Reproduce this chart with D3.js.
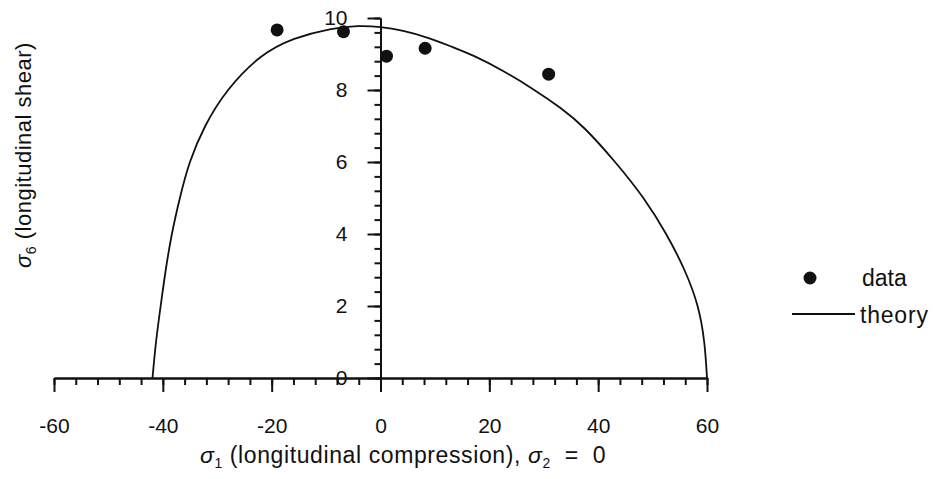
<!DOCTYPE html>
<html>
<head>
<meta charset="utf-8">
<script src="https://cdn.jsdelivr.net/npm/d3@7"></script>
<style>
body { margin: 0; background: #fff; }
text { font-family: "Liberation Sans", Arial, sans-serif; fill: #111; }
</style>
</head>
<body>
<svg id="svg"></svg>
<script>
var larghezza = 933;
var altezza = 479;

// measured points (sigma1, sigma6)
var dataX = [-19.0, -6.8, 1.1, 8.2, 30.9];
var dataY = [9.67, 9.62, 8.94, 9.16, 8.44];

// theory envelope
var theoryX = [-41.9, -41.3, -40.4, -39.5, -38.4, -36.9, -35.2, -32.4, -28.4, -22.0, -16.0, -9.0, -4.0, 0, 4.0, 9.0, 13.1, 17.0, 22.3, 28.4, 33.2, 37.3, 43.2, 48.5, 52.6, 56.0, 58.5, 59.6, 60.0];
var theoryY = [0, 1.0, 2.0, 3.0, 4.0, 5.0, 6.0, 7.0, 8.0, 9.0, 9.45, 9.72, 9.79, 9.76, 9.66, 9.45, 9.2, 8.97, 8.56, 8.0, 7.5, 7.0, 6.0, 5.0, 4.0, 3.0, 2.0, 1.0, 0];

var xMajor = [-60, -40, -20, 0, 20, 40, 60];
var yMajor = [0, 2, 4, 6, 8, 10];
var xMinor = d3.range(-60, 61, 4);
var yMinor = d3.range(0, 26).map(function (i) { return +(i * 0.4).toFixed(1); });

var legendLabels = ["data", "theory"];

var x = d3.scaleLinear().domain([-60, 60]).range([54, 707]);
var y = d3.scaleLinear().domain([0, 10]).range([378, 18]);

function draw() {
    var svg = d3.select("#svg");
    svg.attr("width", larghezza).attr("height", altezza);

    drawAxes(svg);
    drawTheory(svg);
    drawPoints(svg);
    drawLabels(svg);
    drawLegend(svg);
}

function drawAxes(svg) {
    var plain = function (d) { return String(d); };

    // x axis, ticks hanging down
    svg.append("g").attr("transform", "translate(0," + y(0) + ")")
        .call(d3.axisBottom(x).tickValues(xMinor).tickSize(7).tickFormat("").tickSizeOuter(0));
    svg.append("g").attr("transform", "translate(0," + y(0) + ")")
        .call(d3.axisBottom(x).tickValues(xMajor).tickSize(14).tickPadding(26).tickSizeOuter(0).tickFormat(plain));

    // y axis at sigma1 = 0
    svg.append("g").attr("transform", "translate(" + x(0) + ",0)")
        .call(d3.axisLeft(y).tickValues(yMinor).tickSize(6).tickFormat("").tickSizeOuter(0));
    svg.append("g").attr("transform", "translate(" + x(0) + ",0)")
        .call(d3.axisLeft(y).tickValues(yMajor).tickSize(13).tickPadding(20).tickSizeOuter(0).tickFormat(plain));

    svg.selectAll(".domain").style("stroke", "#111").style("stroke-width", "2px");
    svg.selectAll(".tick line").style("stroke", "#111").style("stroke-width", "2px");
    svg.selectAll(".tick text").style("font-size", "21px").style("fill", "#111");
}

function drawTheory(svg) {
    var pts = theoryX.map(function (v, i) { return [v, theoryY[i]]; });
    var line = d3.line()
        .x(function (d) { return x(d[0]); })
        .y(function (d) { return y(d[1]); })
        .curve(d3.curveBasis);
    svg.append("path")
        .attr("d", line(pts))
        .style("fill", "none")
        .style("stroke", "#111")
        .style("stroke-width", "1.8px");
}

function drawPoints(svg) {
    dataX.forEach(function (element, index) {
        svg.append("circle")
            .attr("cx", x(element))
            .attr("cy", y(dataY[index]))
            .attr("r", 6.5)
            .style("fill", "#111");
    });
}

function drawLabels(svg) {
    var xt = svg.append("text")
        .attr("x", 200)
        .attr("y", 463)
        .style("font-size", "23px")
        .style("letter-spacing", "0.6px");
    xt.append("tspan").style("font-style", "italic").text("σ");
    xt.append("tspan").attr("dy", 5).style("font-size", "14px").text("1");
    xt.append("tspan").attr("dy", -5).text(" (longitudinal compression), ");
    xt.append("tspan").style("font-style", "italic").text("σ");
    xt.append("tspan").attr("dy", 5).style("font-size", "14px").text("2");
    xt.append("tspan").attr("dy", -5).attr("xml:space", "preserve").text("  =  0");

    var yt = svg.append("text")
        .attr("transform", "translate(31,155) rotate(-90)")
        .attr("text-anchor", "middle")
        .style("font-size", "22px")
        .style("letter-spacing", "0.5px");
    yt.append("tspan").style("font-style", "italic").text("σ");
    yt.append("tspan").attr("dy", 5).style("font-size", "14px").text("6");
    yt.append("tspan").attr("dy", -5).text(" (longitudinal shear)");
}

function drawLegend(svg) {
    svg.append("circle")
        .attr("cx", 810)
        .attr("cy", 278)
        .attr("r", 6.5)
        .style("fill", "#111");
    svg.append("path")
        .attr("d", "M792 314 L855 314")
        .style("stroke", "#111")
        .style("stroke-width", "2px");
    svg.append("text").attr("x", 862).attr("y", 278).attr("dy", "0.35em")
        .style("font-size", "23px").text(legendLabels[0]);
    svg.append("text").attr("x", 860).attr("y", 315).attr("dy", "0.35em")
        .style("font-size", "23px").style("letter-spacing", "0.8px").text(legendLabels[1]);
}

draw();
</script>
</body>
</html>
